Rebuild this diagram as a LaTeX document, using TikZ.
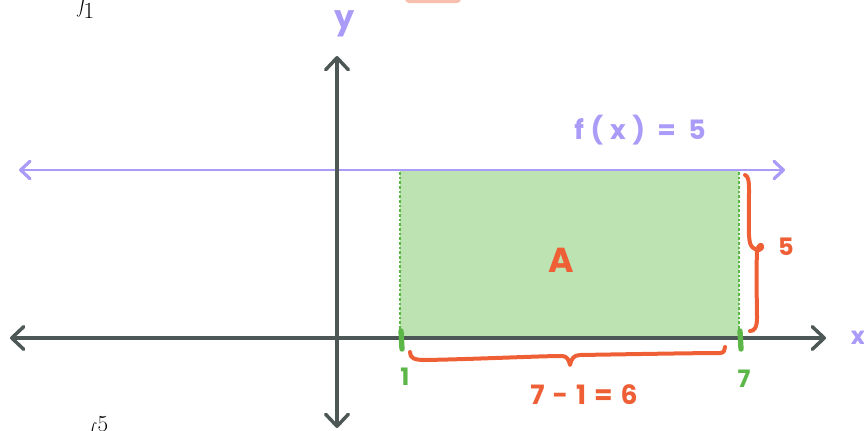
\documentclass[tikz,border=0pt]{standalone}
\usepackage{fontspec}
\newfontfamily\hand{Poppins}[LetterSpace=12]
\usetikzlibrary{arrows.meta}
\definecolor{axisgray}{HTML}{4D5756}
\definecolor{lilac}{HTML}{A99BF7}
\definecolor{tomato}{HTML}{EE5F36}
\definecolor{leaf}{HTML}{5DB648}
\definecolor{mint}{HTML}{BDE3B2}
\definecolor{salmon}{HTML}{F9BFAE}
\tikzset{
  chev/.tip={Straight Barb[length=9pt,width=17pt,line width=2.6pt,line cap=round,line join=round]},
  chevs/.tip={Straight Barb[length=7pt,width=13pt,line width=2.4pt,line cap=round,line join=round]},
  axis/.style={draw=axisgray,line width=2.3pt,line cap=round,{chev}-{chev}},
  fline/.style={draw=lilac,line width=1.5pt,line cap=round,{chevs}-{chevs}},
  brace/.style={draw=tomato,line width=3pt,line cap=round,line join=round},
  tick/.style={draw=leaf,line width=4pt,line cap=round},
  edge/.style={draw=leaf,line width=0.8pt,dash pattern=on 2pt off 1.5pt},
  lbl/.style={font=\hand\bfseries\fontsize{18}{20}\selectfont,inner sep=0pt},
  intg/.style={inner sep=0pt,font=\fontsize{24}{28}\selectfont},
}
\begin{document}
\begin{tikzpicture}[x=0.75pt,y=-0.75pt]
\useasboundingbox (0,0) rectangle (864,430);
% salmon patch at top
\fill[salmon,rounded corners=3pt] (405,-10) rectangle (461,3);
% integral fragments
\node[intg,anchor=south west] (intA) at (76,19) {$\displaystyle\int_1$};
\node[intg,anchor=north west] (intB) at (84,416) {$\displaystyle\int^5$};
% area
\fill[mint] (400,170) rectangle (739,338);
\coordinate (bl) at (400,338); \coordinate (tl) at (400,170);
\coordinate (br) at (739,338); \coordinate (tr) at (739,170);
\draw[edge] (bl) -- (tl);
\draw[edge] (br) -- (tr);
% f(x)=5 line
\coordinate (fL) at (19,170); \coordinate (fR) at (785,170);
\draw[fline] (fL) -- (fR);
% axes
\coordinate (xL) at (10,338); \coordinate (xR) at (826,338);
\coordinate (yB) at (337,428); \coordinate (yT) at (337,56);
\draw[axis] (xL) -- (xR);
\draw[axis] (yB) -- (yT);
% ticks
\coordinate (t1a) at (401,331); \coordinate (t1b) at (402,349);
\coordinate (t7a) at (740,331); \coordinate (t7b) at (741,349);
\draw[tick] (t1a) -- (t1b);
\draw[tick] (t7a) -- (t7b);
% braces
\draw[brace] (410,352) .. controls (410,358) and (414,360) .. (425,360)
  .. controls (480,359) and (540,356) .. (562,356)
  .. controls (567,356) and (569,360) .. (570,365)
  .. controls (571,359) and (574,355) .. (580,355)
  .. controls (640,354) and (700,353) .. (720,353)
  .. controls (724,353) and (725,350) .. (725,347);
\draw[brace] (745,175) .. controls (748,176) and (749,180) .. (749,190)
  .. controls (749,215) and (748,235) .. (750,243)
  .. controls (752,250) and (760,252) .. (762,248)
  .. controls (763,243) and (758,243) .. (757,252)
  .. controls (756,275) and (757,305) .. (757,318)
  .. controls (757,328) and (754,331) .. (750,331);
% labels
\node[lbl,text=lilac,font=\hand\bfseries\fontsize{24}{28}\selectfont] (ylbl) at (345,24) {y};
\node[lbl,text=lilac] (xlbl) at (858,338) {x};
\node[lbl,text=lilac,font=\hand\bfseries\fontsize{20}{24}\selectfont\addfontfeatures{LetterSpace=25}] (flbl) at (640,130) {f(x) = 5};
\node[lbl,text=tomato,font=\hand\bfseries\fontsize{26}{30}\selectfont] (Albl) at (561,260) {A};
\node[lbl,text=tomato] (fivelbl) at (786,247) {5};
\node[lbl,text=leaf] (onelbl) at (405,377) {1};
\node[lbl,text=leaf] (sevenlbl) at (744,379) {7};
\node[lbl,text=tomato,font=\hand\bfseries\fontsize{20}{24}\selectfont\addfontfeatures{LetterSpace=30}] (difflbl) at (584,395) {7-1=6};
\end{tikzpicture}
\end{document}
